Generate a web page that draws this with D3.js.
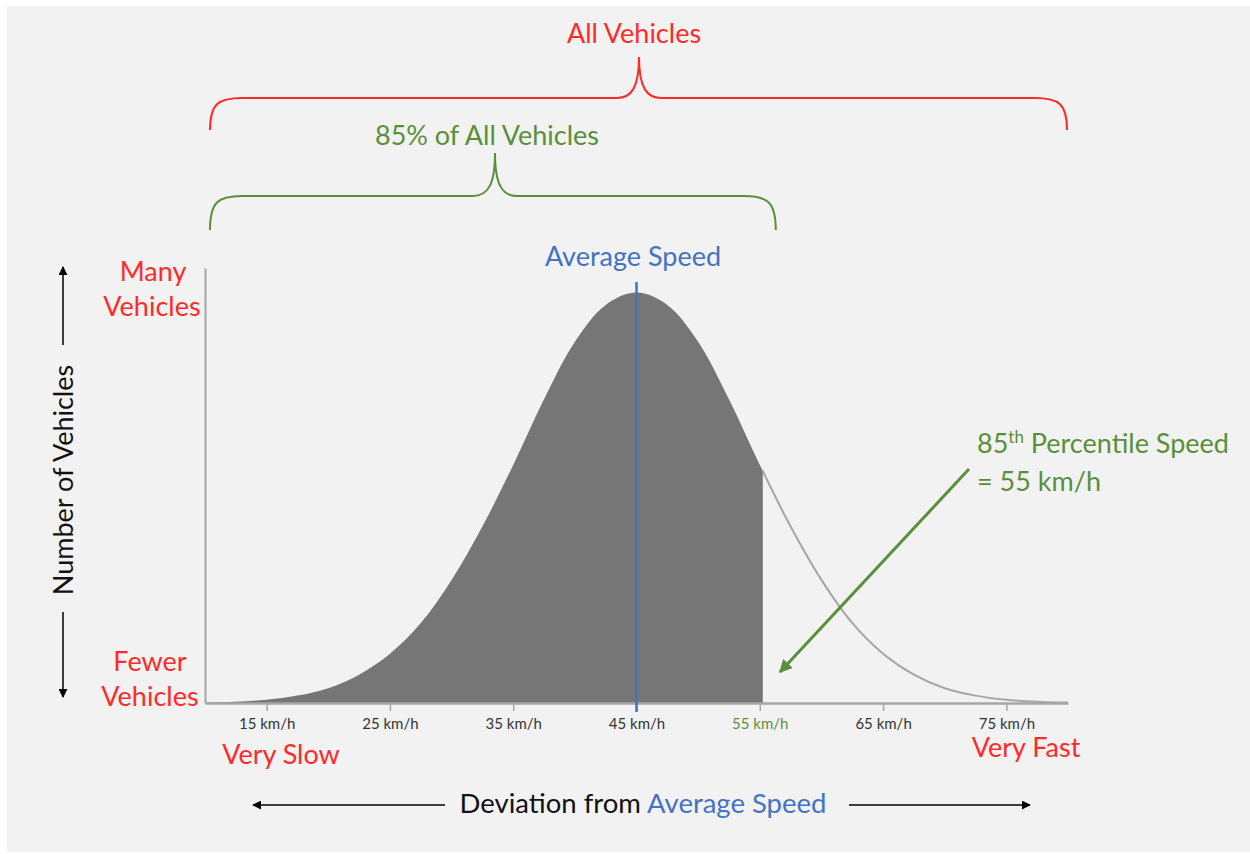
<!DOCTYPE html>
<html>
<head>
<meta charset="utf-8">
<script src="https://cdn.jsdelivr.net/npm/d3@7"></script>
<style>
  html, body { margin: 0; padding: 0; background: #ffffff; }
  svg { display: block; font-family: Lato, "Open Sans", sans-serif; }
</style>
</head>
<body>
<div id="vizcont"></div>
<script>
// speeds (km/h) along the curve and relative number of vehicles (peak = 100)
var speeds = [10, 12.5, 15, 17.5, 20, 22.5, 25, 27.5, 30, 32.5, 35, 37.5, 40, 42.5, 45,
              47.5, 50, 52.5, 55, 57.5, 60, 62.5, 65, 67.5, 70, 72.5, 75, 77.5, 80];
var vehicles = [0.1, 0.3, 0.8, 1.8, 3.6, 6.9, 12, 19.5, 30, 43, 58, 74, 88, 97, 100,
                97, 88, 74, 58, 43, 30, 19.5, 12, 6.9, 3.6, 1.8, 0.8, 0.3, 0.1];
var tickSpeeds = [15, 25, 35, 45, 55, 65, 75];
var averageSpeed = 45;
var percentile85 = 55;

var red = "#ff2a2a", green = "#5a8f3a", blue = "#4472c4", grey = "#a6a6a6";
var big = "27px";

var W = 1250, H = 854;
var svg = d3.select("#vizcont")
    .append("svg")
    .attr("width", W)
    .attr("height", H);

// panel background
svg.append("rect")
    .attr("x", 7).attr("y", 6)
    .attr("width", W - 7).attr("height", 846)
    .attr("fill", "#f2f2f2");

var defs = svg.append("defs");
function marker(id, color, size) {
    defs.append("marker")
        .attr("id", id)
        .attr("viewBox", "0 0 10 10")
        .attr("refX", 9).attr("refY", 5)
        .attr("markerWidth", size).attr("markerHeight", size)
        .attr("markerUnits", "userSpaceOnUse")
        .attr("orient", "auto-start-reverse")
        .append("path")
        .attr("d", "M0,0 L10,5 L0,10 Z")
        .attr("fill", color);
}
marker("arrowBlack", "#000", 9);
marker("arrowGreen", green, 13);

// scales
var x = d3.scaleLinear().domain([10, 80]).range([205, 1068]);
var y = d3.scaleLinear().domain([0, 106]).range([703, 268]);

var data = speeds.map(function(s, i) { return {s: s, v: vehicles[i]}; });

// shaded area up to the 85th percentile
var area = d3.area()
    .x(function(d) { return x(d.s); })
    .y0(y(0))
    .y1(function(d) { return y(d.v); })
    .curve(d3.curveCatmullRom);

svg.append("clipPath").attr("id", "clip85")
    .append("rect")
    .attr("x", x(10)).attr("y", 0)
    .attr("width", x(percentile85) - x(10) + 3).attr("height", H);

svg.append("path")
    .datum(data)
    .attr("d", area)
    .attr("fill", "#767676")
    .attr("clip-path", "url(#clip85)");

// the remaining curve as a thin line
svg.append("clipPath").attr("id", "clipRest")
    .append("rect")
    .attr("x", x(percentile85) + 3).attr("y", 0)
    .attr("width", W).attr("height", H);

var line = d3.line()
    .x(function(d) { return x(d.s); })
    .y(function(d) { return y(d.v); })
    .curve(d3.curveCatmullRom);

svg.append("path")
    .datum(data)
    .attr("d", line)
    .attr("fill", "none")
    .attr("stroke", grey)
    .attr("stroke-width", 2)
    .attr("clip-path", "url(#clipRest)");

// axes
var xAxis = svg.append("g")
    .attr("transform", "translate(0," + y(0) + ")")
    .call(d3.axisBottom(x)
        .tickValues(tickSpeeds)
        .tickSize(8)
        .tickSizeOuter(0)
        .tickPadding(7)
        .tickFormat(function(d) { return d + " km/h"; }));
xAxis.select(".domain").attr("stroke", grey).attr("stroke-width", 2.5);
xAxis.selectAll(".tick line").attr("stroke", grey).attr("stroke-width", 1.5);
xAxis.selectAll(".tick text")
    .style("font", "15px Lato, sans-serif")
    .attr("fill", function(d) { return d === percentile85 ? green : "#333"; });

var yAxis = svg.append("g")
    .attr("transform", "translate(" + x(10) + ",0)")
    .call(d3.axisLeft(y).tickValues([]).tickSizeOuter(0));
yAxis.select(".domain").attr("stroke", grey).attr("stroke-width", 2);

// average speed line
svg.append("line")
    .attr("x1", x(averageSpeed)).attr("x2", x(averageSpeed))
    .attr("y1", 282).attr("y2", y(0) + 9)
    .attr("stroke", blue)
    .attr("stroke-width", 2.5);

svg.append("text")
    .attr("x", 633).attr("y", 266)
    .attr("text-anchor", "middle")
    .attr("fill", blue)
    .style("font-size", big)
    .text("Average Speed");

// curly brackets
function brace(x0, x1, xc, yTop, yEnd, yTip) {
    return "M" + x0 + "," + yEnd +
        " C" + x0 + "," + (yTop + 6) + " " + (x0 + 8) + "," + yTop + " " + (x0 + 32) + "," + yTop +
        " L" + (xc - 22) + "," + yTop +
        " C" + (xc - 8) + "," + yTop + " " + xc + "," + (yTop - 10) + " " + xc + "," + yTip +
        " C" + xc + "," + (yTop - 10) + " " + (xc + 8) + "," + yTop + " " + (xc + 22) + "," + yTop +
        " L" + (x1 - 32) + "," + yTop +
        " C" + (x1 - 8) + "," + yTop + " " + x1 + "," + (yTop + 6) + " " + x1 + "," + yEnd;
}

svg.append("path")
    .attr("d", brace(x(10) + 5, x(80) - 1, 639, 98, 130, 57))
    .attr("fill", "none").attr("stroke", red).attr("stroke-width", 2);
svg.append("text")
    .attr("x", 634).attr("y", 43)
    .attr("text-anchor", "middle")
    .attr("fill", red)
    .style("font-size", big)
    .text("All Vehicles");

svg.append("path")
    .attr("d", brace(x(10) + 5, x(percentile85) + 16, 495, 196, 230, 153))
    .attr("fill", "none").attr("stroke", green).attr("stroke-width", 2);
svg.append("text")
    .attr("x", 487).attr("y", 145)
    .attr("text-anchor", "middle")
    .attr("fill", green)
    .style("font-size", big)
    .text("85% of All Vehicles");

// y labels
var yLab = svg.append("g")
    .attr("fill", red)
    .attr("text-anchor", "middle")
    .style("font-size", big);
yLab.append("text").attr("x", 153).attr("y", 281).text("Many");
yLab.append("text").attr("x", 152).attr("y", 316).text("Vehicles");
yLab.append("text").attr("x", 150).attr("y", 671).text("Fewer");
yLab.append("text").attr("x", 150).attr("y", 706).text("Vehicles");

svg.append("text")
    .attr("transform", "translate(73,480) rotate(-90)")
    .attr("text-anchor", "middle")
    .attr("fill", "#111")
    .style("font-size", big)
    .text("Number of Vehicles");

svg.append("line")
    .attr("x1", 63).attr("y1", 345).attr("x2", 63).attr("y2", 267)
    .attr("stroke", "#000").attr("stroke-width", 1.5)
    .attr("marker-end", "url(#arrowBlack)");
svg.append("line")
    .attr("x1", 63).attr("y1", 612).attr("x2", 63).attr("y2", 697)
    .attr("stroke", "#000").attr("stroke-width", 1.5)
    .attr("marker-end", "url(#arrowBlack)");

// x labels
svg.append("text")
    .attr("x", 281).attr("y", 764)
    .attr("text-anchor", "middle")
    .attr("fill", red)
    .style("font-size", big)
    .text("Very Slow");
svg.append("text")
    .attr("x", 1026).attr("y", 757)
    .attr("text-anchor", "middle")
    .attr("fill", red)
    .style("font-size", big)
    .text("Very Fast");

var dev = svg.append("text")
    .attr("x", 643).attr("y", 813)
    .attr("text-anchor", "middle")
    .style("font-size", "27.5px");
dev.append("tspan").attr("fill", "#111").text("Deviation from ");
dev.append("tspan").attr("fill", blue).text("Average Speed");

svg.append("line")
    .attr("x1", 445).attr("y1", 805).attr("x2", 253).attr("y2", 805)
    .attr("stroke", "#000").attr("stroke-width", 1.5)
    .attr("marker-end", "url(#arrowBlack)");
svg.append("line")
    .attr("x1", 849).attr("y1", 805).attr("x2", 1030).attr("y2", 805)
    .attr("stroke", "#000").attr("stroke-width", 1.5)
    .attr("marker-end", "url(#arrowBlack)");

// 85th percentile annotation
var p = svg.append("text")
    .attr("x", 977).attr("y", 453)
    .attr("fill", green)
    .style("font-size", big);
p.append("tspan").text("85");
p.append("tspan").attr("dy", -10).style("font-size", "17px").text("th");
p.append("tspan").attr("dy", 10).text(" Percentile Speed");
svg.append("text")
    .attr("x", 977).attr("y", 491)
    .attr("fill", green)
    .style("font-size", big)
    .text("= 55 km/h");

svg.append("line")
    .attr("x1", 969).attr("y1", 469).attr("x2", 780).attr("y2", 672)
    .attr("stroke", green).attr("stroke-width", 3)
    .attr("marker-end", "url(#arrowGreen)");
</script>
</body>
</html>
